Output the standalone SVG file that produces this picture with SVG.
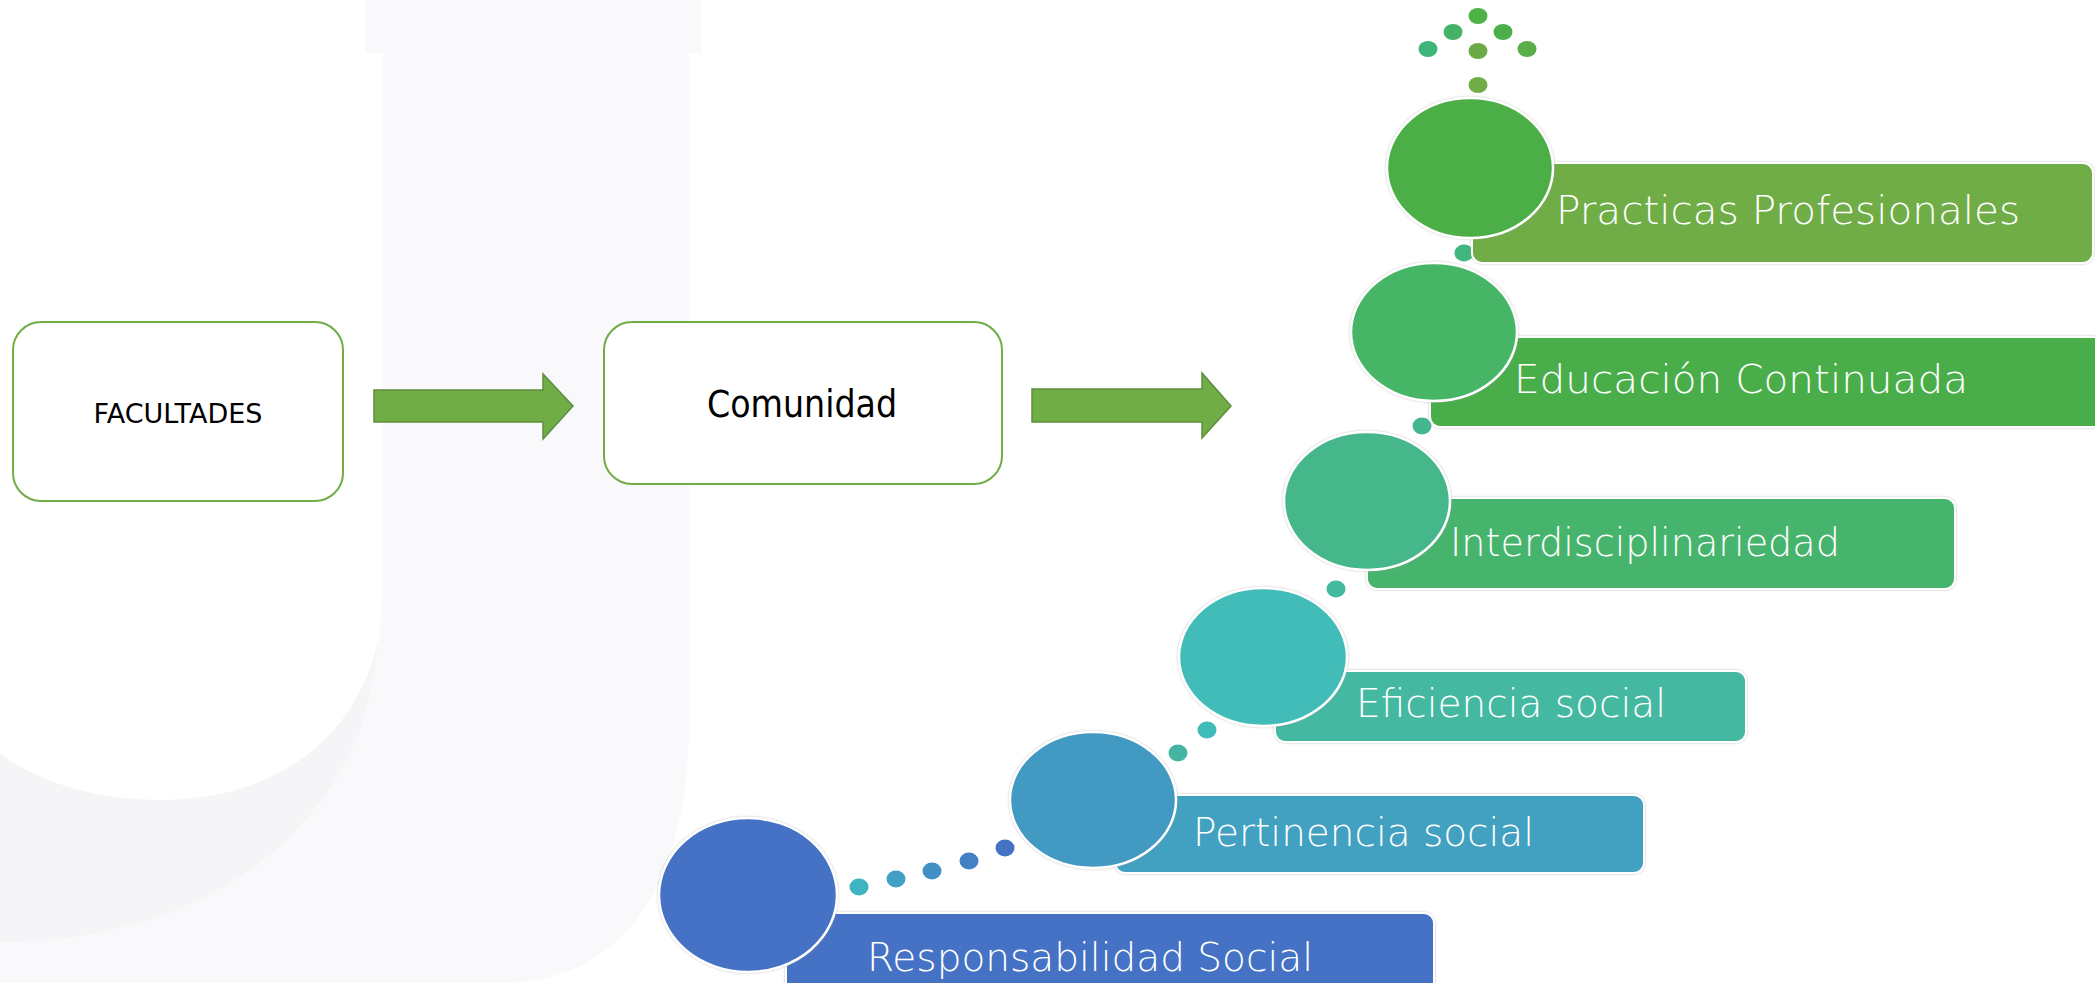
<svg xmlns="http://www.w3.org/2000/svg" width="2095" height="983" viewBox="0 0 2095 983">
<defs>
<style>
.box{fill:#ffffff;stroke:#70ad47;stroke-width:2}
.boxtxt{fill:#000;text-anchor:middle}
.arrow{fill:#70ad47;stroke:#5e8f3c;stroke-width:1.5}
.step{stroke:#ffffff;stroke-width:2.5}
.bar{stroke:#ffffff;stroke-width:2}
.lbl{font-family:"DejaVu Sans",sans-serif;font-weight:200;font-size:39px;fill:#ffffff}
</style>
<filter id="sh" x="-10%" y="-10%" width="120%" height="120%">
<feDropShadow dx="0" dy="0" stdDeviation="1.2" flood-color="#9a9a9a" flood-opacity="0.6"/>
</filter>
</defs>
<rect width="2095" height="983" fill="#ffffff"/>
<g id="background">
<path d="M365,0 H701 V53 H689 V720 C689,860 640,983 500,983 H0 V753 C30,778 90,800 160,800 C290,800 383,720 383,600 V53 H365 Z" fill="#f9f9fb"/>
<path d="M383,590 C383,720 290,800 160,800 C90,800 30,778 0,753 V942 C150,942 300,880 360,730 C372,690 380,640 383,590 Z" fill="#f5f5f7"/>
</g>
<g id="facultades">
<rect class="box" x="13" y="322" width="330" height="179" rx="28"/>
<text class="boxtxt" x="178" y="423" font-family="'DejaVu Sans', sans-serif" font-size="27">FACULTADES</text>
</g>
<g id="comunidad">
<rect class="box" x="604" y="322" width="398" height="162" rx="28"/>
<text class="boxtxt" x="802" y="417" font-family="'DejaVu Sans Condensed', 'DejaVu Sans', sans-serif" font-size="37">Comunidad</text>
</g>
<g id="connectors">
<path class="arrow" d="M374,390 H543 V374 L573,406 L543,439 V422 H374 Z"/>
<path class="arrow" d="M1032,389 H1202 V373 L1231,406 L1202,438 V422 H1032 Z"/>
<g id="dots">
<ellipse cx="859" cy="887" rx="9.5" ry="8.5" fill="#3db4c0"/>
<ellipse cx="896" cy="879" rx="9.5" ry="8.5" fill="#40a0c8"/>
<ellipse cx="932" cy="871" rx="9.5" ry="8.5" fill="#4290c6"/>
<ellipse cx="969" cy="861" rx="9.5" ry="8.5" fill="#4480c6"/>
<ellipse cx="1005" cy="848" rx="9.5" ry="8.5" fill="#4472c4"/>
<ellipse cx="1178" cy="753" rx="9.5" ry="8.5" fill="#44b5a2"/>
<ellipse cx="1207" cy="730" rx="9.5" ry="8.5" fill="#41bbb9"/>
<ellipse cx="1336" cy="589" rx="9.5" ry="8.5" fill="#43b99e"/>
<ellipse cx="1422" cy="426" rx="9.5" ry="8.5" fill="#44b68e"/>
<ellipse cx="1464" cy="253" rx="9.5" ry="8.5" fill="#41b57e"/>
<ellipse cx="1478" cy="16" rx="9.5" ry="8" fill="#4cb248"/>
<ellipse cx="1453" cy="32" rx="9.5" ry="8" fill="#46b268"/>
<ellipse cx="1503" cy="32" rx="9.5" ry="8" fill="#4aaf4a"/>
<ellipse cx="1428" cy="49" rx="9.5" ry="8" fill="#40b57a"/>
<ellipse cx="1478" cy="51" rx="9.5" ry="8" fill="#6aab48"/>
<ellipse cx="1527" cy="49" rx="9.5" ry="8" fill="#5aae48"/>
<ellipse cx="1478" cy="85" rx="9.5" ry="8" fill="#70ad47"/>
</g>
</g>
<g id="responsabilidad">
<rect class="bar" filter="url(#sh)" x="786" y="913" width="648" height="80" rx="10" fill="#4472c4"/>
<ellipse class="step" filter="url(#sh)" cx="748" cy="895" rx="89" ry="77" fill="#4472c4"/>
<text class="lbl" x="867" y="971" textLength="446" lengthAdjust="spacingAndGlyphs">Responsabilidad Social</text>
</g>
<g id="pertinencia">
<rect class="bar" filter="url(#sh)" x="1115" y="795" width="529" height="78" rx="10" fill="#43a0c0"/>
<ellipse class="step" filter="url(#sh)" cx="1093" cy="800" rx="83" ry="68" fill="#4399c2"/>
<text class="lbl" x="1193" y="846" textLength="341" lengthAdjust="spacingAndGlyphs">Pertinencia social</text>
</g>
<g id="eficiencia">
<rect class="bar" filter="url(#sh)" x="1275" y="671" width="471" height="71" rx="10" fill="#45b8a1"/>
<ellipse class="step" filter="url(#sh)" cx="1263" cy="657" rx="84" ry="69" fill="#43bcb8"/>
<text class="lbl" x="1356" y="717" textLength="310" lengthAdjust="spacingAndGlyphs">Eficiencia social</text>
</g>
<g id="interdisciplinariedad">
<rect class="bar" filter="url(#sh)" x="1367" y="498" width="588" height="91" rx="10" fill="#47b46e"/>
<ellipse class="step" filter="url(#sh)" cx="1367" cy="501" rx="83" ry="69" fill="#45b78a"/>
<text class="lbl" x="1450" y="556" textLength="390" lengthAdjust="spacingAndGlyphs">Interdisciplinariedad</text>
</g>
<g id="educacion">
<rect class="bar" filter="url(#sh)" x="1430" y="337" width="675" height="90" rx="10" fill="#4aae48"/>
<ellipse class="step" filter="url(#sh)" cx="1434" cy="332" rx="83" ry="69" fill="#46b566"/>
<text class="lbl" x="1514" y="393" textLength="454" lengthAdjust="spacingAndGlyphs">Educación Continuada</text>
</g>
<g id="practicas">
<rect class="bar" filter="url(#sh)" x="1472" y="163" width="621" height="100" rx="10" fill="#70ad47"/>
<ellipse class="step" filter="url(#sh)" cx="1470" cy="168" rx="83" ry="70" fill="#4cae46"/>
<text class="lbl" x="1556" y="224" textLength="464" lengthAdjust="spacingAndGlyphs">Practicas Profesionales</text>
</g>
</svg>
